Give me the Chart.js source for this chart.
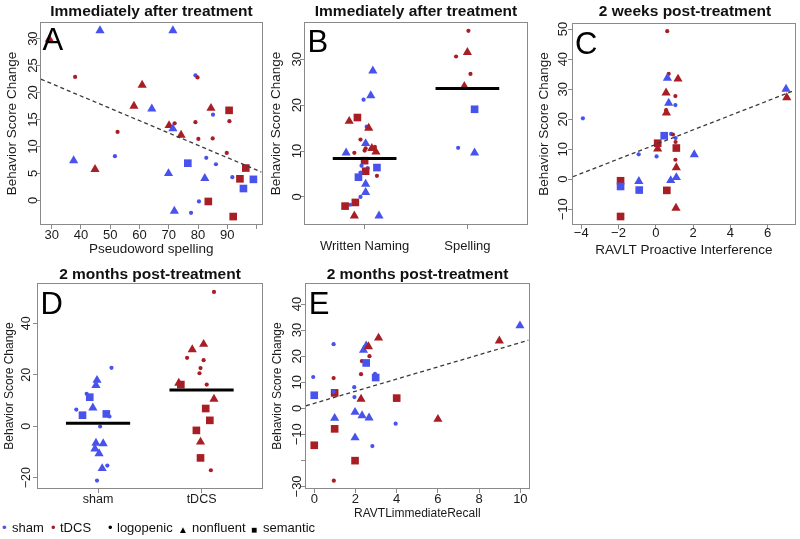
<!DOCTYPE html>
<html><head><meta charset="utf-8">
<script src="https://cdn.jsdelivr.net/npm/chart.js@4/dist/chart.umd.min.js"></script>
<style>
html,body{margin:0;padding:0;background:#fff;}
#wrap{position:relative;width:800px;height:539px;overflow:hidden;font-family:'Liberation Sans',Arial,Helvetica,sans-serif;}
#wrap canvas{position:absolute;}
.ttl{position:absolute;font-weight:bold;font-size:15.5px;line-height:18px;color:#111;white-space:nowrap;transform:translate(-50%,-50%);}
.let{position:absolute;font-size:31px;line-height:31px;color:#000;}
.leg{position:absolute;top:520px;font-size:13px;line-height:15px;color:#111;white-space:nowrap;}
</style></head>
<body><div id="wrap"></div>
<script>
// ---------- DATA ----------
// group: s = sham, t = tDCS ; diagnosis: l = logopenic, n = nonfluent, s = semantic
// Panel A: Immediately after treatment vs Pseudoword spelling
const A_X = [29.2,46.5,71.4,38.0,79.1,79.8,60.9,58.1,64.2,84.4,90.6,85.1,52.5,70.1,72.0,71.4,79.1,90.7,74.2,80.1,85.0,89.8,51.6,37.5,44.8,76.5,82.8,86.1,69.9,82.3,96.3,94.3,91.7,98.9,95.5,83.5,80.3,71.9,77.6,92.0];
const A_Y = [29.9,31.5,31.5,22.9,23.2,22.8,21.4,17.5,17.0,17.1,16.7,15.9,12.7,13.9,14.3,13.3,14.5,14.7,12.1,11.4,11.5,8.8,8.2,7.4,5.75,6.9,7.9,6.7,5.0,4.1,6.0,4.0,4.3,3.9,2.2,-0.2,-0.2,-2.0,-2.3,-3.0];
const A_GROUP = ['t','s','s','t','s','t','t','t','s','t','t','s','t','t','t','s','t','t','t','t','t','t','s','s','t','s','s','s','s','s','t','t','s','s','s','t','s','s','s','t'];
const A_DX    = ['n','n','n','l','l','l','n','n','n','n','s','l','l','n','l','n','l','l','n','l','l','l','l','n','n','s','l','l','n','n','s','s','l','s','s','s','l','n','l','s'];
const A_XTICKS = [30,40,50,60,70,80,90,100];
const A_XLABELS = ['30','40','50','60','70','80','90',''];
const A_YTICKS = [0,5,10,15,20,25,30];
const A_FIT = {intercept: 28.5, slope: -0.2286};

// Panel B: Immediately after treatment, Written Naming vs Spelling
const B_CATEGORIES = ['Written Naming','Spelling'];
const B_X = [1.08,1.06,0.99,0.93,0.85,1.02,1.04,0.96,1.01,1.01,1.07,1.10,1.00,1.11,0.82,0.90,1.00,0.97,1.03,1.12,1.01,0.96,0.94,1.12,1.01,1.01,0.96,0.91,0.86,0.81,0.90,1.14,
             2.01,1.89,2.00,2.03,1.97,2.07,1.91,2.07];
const B_Y = [27.5,22.1,21.2,17.3,16.5,15.3,15.0,12.5,11.65,10.6,10.6,10.9,10.1,9.8,9.6,9.6,7.9,6.8,6.3,6.4,5.6,5.3,4.3,4.6,2.8,1.0,0.0,-1.2,-1.7,-2.0,-4.1,-4.1,
             36.2,30.6,31.5,26.8,24.1,19.1,10.7,9.6];
const B_GROUP = ['s','s','s','t','t','s','t','t','s','t','t','t','t','t','s','t','t','s','s','s','t','s','s','t','s','s','s','t','s','t','t','s',
                 't','t','t','t','t','s','s','s'];
const B_DX    = ['n','n','l','s','n','l','n','l','n','l','n','l','l','n','n','l','s','l','l','s','s','l','s','l','n','n','l','s','l','s','n','n',
                 'l','l','n','l','n','s','l','n'];
const B_MEANS = [8.4, 23.6];
const B_YTICKS = [0,10,20,30];

// Panel C: 2 weeks post-treatment vs RAVLT Proactive Interference
const C_X = [0.61,0.69,0.62,1.19,6.98,7.02,0.55,1.05,0.69,1.05,0.55,0.57,-3.91,0.45,0.82,0.92,1.06,1.06,0.10,1.10,0.10,0.04,-0.92,2.06,1.05,1.10,1.10,0.80,-1.89,-1.89,-0.91,-0.89,0.59,1.08,-1.89];
const C_Y = [49.3,35.1,33.7,33.4,30.0,27.2,28.8,27.7,25.4,24.7,23.0,22.1,20.3,14.5,15.1,14.9,13.7,12.4,12.0,10.4,10.1,7.6,8.3,8.2,6.5,3.9,0.6,-0.4,-0.5,-2.4,-0.7,-3.6,-3.7,-9.6,-12.4];
const C_GROUP = ['t','t','s','t','s','t','t','t','s','s','t','t','s','s','s','t','s','t','t','t','t','s','s','s','t','t','s','s','t','s','s','s','t','t','t'];
const C_DX    = ['l','l','n','n','n','n','n','l','n','l','l','n','l','s','l','l','l','l','s','s','n','l','l','n','l','n','n','n','s','s','n','s','s','n','s'];
const C_XTICKS = [-4,-2,0,2,4,6];
const C_YTICKS = [-10,0,10,20,30,40,50];
const C_FIT = {intercept: 11.6, slope: 2.42};

// Panel D: 2 months post-treatment, sham vs tDCS
const D_CATEGORIES = ['sham','tDCS'];
const D_X = [1.13,0.99,0.98,0.89,0.92,0.95,0.79,0.85,1.08,1.11,1.02,0.98,1.05,0.97,1.01,1.09,1.04,0.99,
             2.12,2.02,1.91,1.86,2.02,1.99,1.98,1.78,1.80,2.05,2.12,2.04,2.08,1.95,1.99,1.99,2.09];
const D_Y = [22.7,17.9,15.9,12.6,11.3,7.2,6.5,4.3,4.8,3.8,-0.1,-6.5,-6.7,-8.8,-10.6,-15.3,-16.4,-21.1,
             52.2,31.9,29.8,26.6,25.7,22.6,20.6,16.8,16.2,16.2,10.6,6.9,2.3,-1.6,-6.1,-12.3,-17.1];
const D_GROUP = ['s','s','s','s','s','s','s','s','s','s','s','s','s','s','s','s','s','s',
                 't','t','t','t','t','t','t','t','t','t','t','t','t','t','t','t','t'];
const D_DX    = ['l','n','n','l','s','n','l','s','s','l','l','n','n','n','n','l','n','l',
                 'l','n','n','l','l','l','l','n','s','l','n','s','s','s','n','s','l'];
const D_MEANS = [1.2, 14.1];
const D_YTICKS = [-20,0,20,40];

// Panel E: 2 months post-treatment vs RAVTLimmediateRecall
const E_X = [-0.05,0.0,0.0,0.94,0.94,0.99,0.94,0.99,0.99,0.95,1.94,1.95,1.98,1.98,1.98,2.27,2.31,2.52,2.68,2.39,2.52,2.63,3.12,2.95,2.98,2.27,2.32,2.66,2.82,3.95,4.0,6.0,8.98,9.98];
const E_Y = [12.0,5.0,-14.2,24.6,11.6,5.9,6.3,-3.8,-7.9,-27.8,8.1,4.3,-1.5,-11.3,-20.1,13.1,18.1,17.4,20.0,22.3,24.0,23.7,27.0,13.2,11.8,3.5,-2.8,-3.7,-14.5,-5.9,3.9,-4.2,25.9,31.7];
const E_GROUP = ['s','s','t','s','t','t','s','s','t','t','s','s','s','s','t','t','t','s','t','s','s','t','t','s','s','t','s','s','s','s','t','t','t','s'];
const E_DX    = ['l','s','s','l','l','s','l','n','s','l','l','l','n','n','s','l','l','s','l','n','n','n','n','l','s','n','n','n','l','l','s','n','n','n'];
const E_XTICKS = [0,2,4,6,8,10];
const E_YTICKS = [-30,-20,-10,0,10,20,30,40];
const E_YLABELS = ['\u221230','','\u221210','0','10','20','30','40'];
const E_FIT = {intercept: 1.9, slope: 2.33};

// ---------- STYLE ----------
const FONT = "'Liberation Sans', Arial, Helvetica, sans-serif";
Chart.defaults.font.family = FONT;
const COLORS = {s:'rgb(72,82,236)', t:'rgb(168,30,36)'};
const SHAPES = {l:'circle', n:'triangle', s:'rect'};
const RADII = {l:2.1, n:5.3, s:5.4};
const fmt = v => v < 0 ? '\u2212' + Math.abs(v) : String(v);

function pointsSet(xs, ys, grp, dx){
  return {
    type:'scatter',
    data: xs.map((x,i)=>({x:x, y:ys[i]})),
    pointStyle: c => SHAPES[dx[c.dataIndex]],
    pointRadius: c => RADII[dx[c.dataIndex]],
    pointBackgroundColor: c => COLORS[grp[c.dataIndex]],
    pointBorderWidth: 0,
    pointHoverRadius: c => RADII[dx[c.dataIndex]],
    clip: false, order: 1
  };
}
function fitSet(fit, xmin, xmax){
  return {type:'scatter', showLine:true,
    data:[{x:xmin, y:fit.intercept + fit.slope*xmin},{x:xmax, y:fit.intercept + fit.slope*xmax}],
    borderColor:'#3a3a3a', borderWidth:1.3, borderDash:[4,3], pointRadius:0, order:0};
}
function meanSets(means){
  return means.map((m,i)=>({type:'scatter', showLine:true,
    data:[{x:(i+1)-0.31, y:m},{x:(i+1)+0.31, y:m}],
    borderColor:'#000', borderWidth:3, borderCapStyle:'butt', pointRadius:0, order:0}));
}

const frame = {id:'frame', afterDatasetsDraw(c){
  const a=c.chartArea, ctx=c.ctx;
  ctx.save(); ctx.strokeStyle='#8a8a8a'; ctx.lineWidth=1;
  const l=Math.round(a.left)-0.5, t=Math.round(a.top)-0.5, r=Math.round(a.right)+0.5, b=Math.round(a.bottom)+0.5;
  ctx.strokeRect(l,t,r-l,b-t); ctx.restore();
}};

const mctx = document.createElement('canvas').getContext('2d');
function widest(labels, size){
  mctx.font = size + 'px ' + FONT;
  return Math.max(...labels.map(s=>mctx.measureText(s).width));
}

const wrap = document.getElementById('wrap');
function panel(p){
  const cv = document.createElement('canvas');
  cv.width = p.w; cv.height = p.h;
  cv.style.left = p.left+'px'; cv.style.top = p.top+'px';
  wrap.appendChild(cv);
  const [L,T,R,B] = p.box;
  const tl = 5;
  const tf = p.tickFont, af = p.titleFont;
  const yPad = (L - p.yTickX) - tl - widest(p.yLabels, tf)/2;
  const xPad = (p.xTickY - B) - tl - tf*1.2/2;
  const yTitlePad = (p.yTitleX - p.left) - af*1.2/2;
  const xTitlePad = p.xTitle ? (p.top + p.h - p.xTitleY) - af*1.2/2 : 0;
  const grid = {display:true, drawOnChartArea:false, drawTicks:true, tickLength:tl, color:'#8a8a8a', lineWidth:1};
  new Chart(cv, {
    type:'scatter',
    data:{datasets:p.datasets},
    options:{
      responsive:false, animation:false, devicePixelRatio:1, events:[],
      layout:{padding:{left:0, top:T-p.top, right:p.left+p.w-R, bottom:0}},
      plugins:{legend:{display:false}, title:{display:false}, tooltip:{enabled:false}},
      scales:{
        x:{type:'linear', position:'bottom', bounds:'data', min:p.xr[0], max:p.xr[1],
           afterBuildTicks: s => { s.ticks = p.xTicks.map(v=>({value:v})); },
           afterFit: s => { s.height = p.top + p.h - B; },
           grid:grid, border:{display:false},
           ticks:{autoSkip:false, maxRotation:0, minRotation:0, padding:xPad, color:'#1a1a1a', font:{size:tf},
                  callback:(v,i)=>p.xLabels[i]},
           title:{display:!!p.xTitle, text:p.xTitle||'', color:'#1a1a1a', font:{size:af}, padding:{top:0,bottom:xTitlePad}}},
        y:{type:'linear', position:'left', bounds:'data', min:p.yr[0], max:p.yr[1],
           afterBuildTicks: s => { s.ticks = p.yTicks.map(v=>({value:v})); },
           afterFit: s => { s.width = L - p.left; },
           grid:grid, border:{display:false},
           ticks:{autoSkip:false, minRotation:90, maxRotation:90, crossAlign:'center', padding:yPad, color:'#1a1a1a', font:{size:tf},
                  callback:(v,i)=>p.yLabels[i]},
           title:{display:true, text:'Behavior Score Change', color:'#1a1a1a', font:{size:af}, padding:{top:yTitlePad,bottom:0}}}
      }
    },
    plugins:[frame]
  });
}

const AXR=[26.35,101.7], CXR=[-4.44,7.44], EXR=[-0.4,10.4];
panel({left:0, top:0, w:267, h:262, box:[41,23,262,224], xr:AXR, yr:[-4.38,32.9],
  xTicks:A_XTICKS, xLabels:A_XLABELS, yTicks:A_YTICKS, yLabels:A_YTICKS.map(fmt),
  xTitle:'Pseudoword spelling', tickFont:13, titleFont:13.5, xTickY:235, yTickX:33, xTitleY:249, yTitleX:12.5,
  datasets:[fitSet(A_FIT, AXR[0], AXR[1]), pointsSet(A_X,A_Y,A_GROUP,A_DX)]});
panel({left:267, top:0, w:267, h:262, box:[305,23,527,224], xr:[0.42,2.58], yr:[-5.9,37.9],
  xTicks:[1,2], xLabels:B_CATEGORIES, yTicks:B_YTICKS, yLabels:B_YTICKS.map(fmt),
  xTitle:null, tickFont:13, titleFont:13.5, xTickY:246, yTickX:297, yTitleX:276,
  datasets:[...meanSets(B_MEANS), pointsSet(B_X,B_Y,B_GROUP,B_DX)]});
panel({left:533, top:0, w:267, h:262, box:[573,24,797,224], xr:CXR, yr:[-14.9,51.7],
  xTicks:C_XTICKS, xLabels:C_XTICKS.map(fmt), yTicks:C_YTICKS, yLabels:C_YTICKS.map(fmt),
  xTitle:'RAVLT Proactive Interference', tickFont:13, titleFont:13.5, xTickY:233.5, yTickX:563, xTitleY:250, yTitleX:544,
  datasets:[fitSet(C_FIT, CXR[0], CXR[1]), pointsSet(C_X,C_Y,C_GROUP,C_DX)]});
panel({left:0, top:262, w:267, h:250, box:[38,284,262,488], xr:[0.42,2.58], yr:[-24,55.3],
  xTicks:[1,2], xLabels:D_CATEGORIES, yTicks:D_YTICKS, yLabels:D_YTICKS.map(fmt),
  xTitle:null, tickFont:12.5, titleFont:12, xTickY:499.5, yTickX:27, yTitleX:10,
  datasets:[...meanSets(D_MEANS), pointsSet(D_X,D_Y,D_GROUP,D_DX)]});
panel({left:267, top:262, w:267, h:262, box:[306,284,529,488], xr:EXR, yr:[-30.6,47.7],
  xTicks:E_XTICKS, xLabels:E_XTICKS.map(fmt), yTicks:E_YTICKS, yLabels:E_YLABELS,
  xTitle:'RAVTLimmediateRecall', tickFont:13, titleFont:12, xTickY:499, yTickX:297, xTitleY:514, yTitleX:277.5,
  datasets:[fitSet(E_FIT, EXR[0], EXR[1]), pointsSet(E_X,E_Y,E_GROUP,E_DX)]});

// ---------- TEXT OVERLAYS ----------
const TITLES = [['Immediately after treatment',151.5,11],['Immediately after treatment',416,11],['2 weeks post-treatment',685,11],
                ['2 months post-treatment',150,274],['2 months post-treatment',417.5,274]];
TITLES.forEach(([t,x,y])=>{const d=document.createElement('div');d.className='ttl';d.textContent=t;d.style.left=x+'px';d.style.top=y+'px';wrap.appendChild(d);});
const LETTERS = [['A',42.5,24],['B',307.5,26],['C',575,28],['D',40.4,288],['E',308.7,288]];
LETTERS.forEach(([t,x,y])=>{const d=document.createElement('div');d.className='let';d.textContent=t;d.style.left=x+'px';d.style.top=y+'px';wrap.appendChild(d);});
const LEGEND = [['\u2022',2,COLORS.s],['sham',12,'#111'],['\u2022',51,COLORS.t],['tDCS',60,'#111'],['\u2022',108,'#000'],['logopenic',117,'#111'],
                ['\u25B2',178,'#000'],['nonfluent',192,'#111'],['\u25A0',251,'#000'],['semantic',263,'#111']];
LEGEND.forEach(([t,x,c])=>{const d=document.createElement('div');d.className='leg';d.textContent=t;d.style.left=x+'px';d.style.color=c;
  if(t==='\u25B2'||t==='\u25A0'){d.style.fontSize='10px';d.style.top='522px';}
  wrap.appendChild(d);});
</script></body></html>
